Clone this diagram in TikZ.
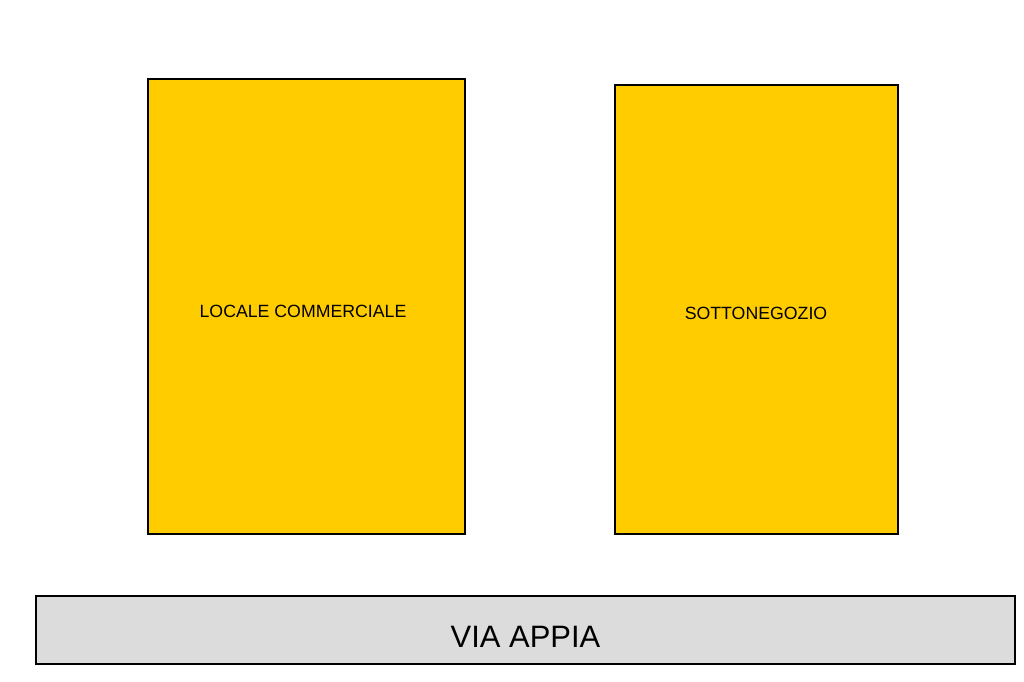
\documentclass[tikz,border=0pt]{standalone}
\usepackage{fontspec}
\setmainfont{Liberation Sans}
\definecolor{locale}{HTML}{FFCC00}
\definecolor{strada}{HTML}{DCDCDC}
\tikzset{
	vano/.style={fill=locale, draw=black, line width=1.8pt},
	via/.style={fill=strada, draw=black, line width=2pt},
	etichetta/.style={font=\fontsize{12.6}{14}\selectfont, inner sep=0pt}
}

\begin{document}
\begin{tikzpicture}[x=0.025cm, y=-0.025cm]
		%frame
		\useasboundingbox (0,0) rectangle (1024,682);
		
		%rooms
		\filldraw[vano] (148,79) rectangle (465,534);
		\filldraw[vano] (615,85) rectangle (898,534);
		
		%street
		\filldraw[via] (36,596) rectangle (1015,664);
		
		%labels
		\node[etichetta] (locale) at (303,311) {LOCALE COMMERCIALE};
		\node[etichetta] (sotto) at (756,313) {SOTTONEGOZIO};
		\node[etichetta, font=\fontsize{22}{26}\selectfont] (appia) at (525.5,637) {VIA APPIA};
		
\end{tikzpicture}
\end{document}
